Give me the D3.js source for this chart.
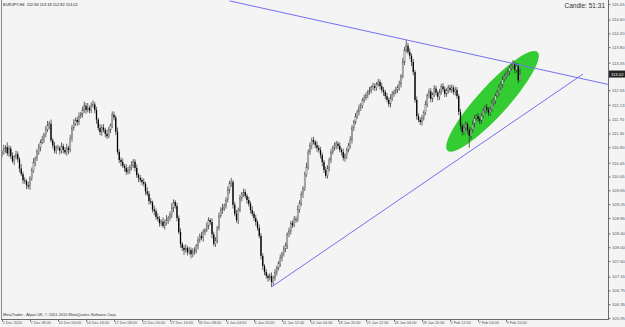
<!DOCTYPE html>
<html>
<head>
<meta charset="utf-8">
<script src="https://cdn.jsdelivr.net/npm/d3@7"></script>
<style>
  html, body { margin: 0; padding: 0; background: #f4f4f4; }
  svg { display: block; }
  text { font-family: "Liberation Sans", Arial, sans-serif; }
</style>
</head>
<body>
<div id="app"></div>
<script>
// EURJPY H4 closes, one row per 16 bars (one time label apart)
const closes = [
  110.74, 110.85, 110.90, 110.72, 110.86, 110.64, 110.50, 110.62, 110.70, 110.55, 110.28, 110.12, 109.94, 109.92, 109.80, 109.76,
  110.00, 110.22, 110.46, 110.58, 110.77, 110.90, 111.05, 111.12, 111.26, 111.42, 111.52, 111.58, 111.10, 110.95, 110.80, 110.88,
  110.88, 110.80, 110.93, 110.82, 110.75, 110.88, 110.82, 111.16, 111.46, 111.58, 111.69, 111.63, 111.80, 111.86, 111.98, 112.10,
  111.98, 112.04, 111.97, 112.10, 112.14, 111.98, 111.70, 111.46, 111.34, 111.47, 111.40, 111.29, 111.22, 111.40, 111.52, 111.84,
  111.76, 111.35, 110.76, 110.53, 110.47, 110.36, 110.30, 110.18, 110.24, 110.32, 110.36, 110.48, 110.30, 110.09, 110.01, 109.95,
  109.89, 109.84, 109.62, 109.55, 109.34, 109.30, 109.10, 109.05, 108.88, 108.82, 108.70, 108.74, 108.62, 108.72, 108.78, 108.84,
  108.94, 109.14, 109.31, 109.20, 108.85, 108.44, 108.10, 107.98, 107.92, 107.98, 107.86, 107.92, 107.80, 107.86, 107.92, 108.04,
  108.21, 108.33, 108.27, 108.44, 108.50, 108.62, 108.79, 108.73, 108.38, 108.10, 108.21, 108.56, 108.91, 109.08, 109.14, 109.20,
  109.37, 109.66, 109.84, 109.89, 109.23, 108.97, 108.79, 109.08, 109.43, 109.55, 109.60, 109.49, 109.37, 109.26, 109.08, 108.97,
  108.85, 108.73, 108.56, 108.33, 107.75, 107.46, 107.28, 107.17, 107.11, 107.17, 106.99, 107.11, 107.28, 107.40, 107.52, 107.69,
  107.81, 107.95, 108.06, 108.36, 108.47, 108.70, 108.64, 108.82, 108.80, 109.10, 109.28, 109.52, 109.70, 110.10, 110.33, 110.76,
  110.94, 111.11, 111.05, 110.96, 110.88, 110.82, 110.67, 110.47, 110.24, 110.07, 110.30, 110.53, 110.76, 110.88, 110.94, 111.00,
  110.94, 110.82, 110.76, 110.59, 110.65, 110.82, 110.94, 111.11, 111.46, 111.63, 111.80, 111.92, 112.04, 112.10, 112.27, 112.33,
  112.41, 112.50, 112.56, 112.62, 112.67, 112.62, 112.73, 112.79, 112.67, 112.56, 112.50, 112.38, 112.27, 112.15, 112.33, 112.44,
  112.50, 112.56, 112.62, 112.73, 112.96, 113.37, 113.72, 113.84, 113.66, 113.55, 113.37, 113.08, 112.27, 111.80, 111.69, 111.63,
  111.75, 111.90, 112.15, 112.40, 112.52, 112.30, 112.42, 112.60, 112.48, 112.36, 112.50, 112.66, 112.58, 112.44, 112.55, 112.62,
  112.56, 112.62, 112.50, 112.56, 112.38, 111.92, 111.52, 111.34, 111.46, 111.57, 111.40, 111.23, 111.40, 111.57, 111.75, 111.80,
  111.72, 111.66, 111.82, 111.95, 112.06, 111.98, 111.90, 112.00, 112.18, 112.25, 112.40, 112.48, 112.64, 112.70, 112.88, 112.95,
  113.02, 113.08, 113.20, 113.25, 113.31, 113.14, 113.25, 112.84, 113.02
];
const firstOpen = 110.70;

// wick lengths above / below the body, in pips (0.01)
const upWick = [
  8, 12, 6, 14, 9, 7, 11, 5, 10, 8, 6, 13, 7, 9, 5, 10,
  6, 9, 12, 5, 8, 10, 7, 11, 6, 9, 14, 8, 12, 6, 10, 7,
  9, 5, 11, 7, 8, 12, 6, 10, 8, 13, 7, 9, 11, 6, 10, 12,
  8, 14, 6, 10, 12, 7, 9, 5, 11, 8, 10, 6, 12, 9, 7, 10,
  9, 6, 12, 8, 7, 10, 5, 11, 9, 6, 13, 8, 7, 10, 6, 9,
  7, 10, 6, 12, 8, 9, 5, 11, 7, 10, 8, 6, 12, 9, 15, 7,
  10, 14, 8, 6, 9, 7, 11, 5, 8, 10, 6, 9, 7, 11, 8, 6,
  9, 7, 12, 8, 6, 10, 8, 5, 11, 7, 9, 6, 10, 8, 12, 7,
  8, 10, 9, 12, 6, 8, 11, 7, 9, 5, 10, 8, 6, 9, 7, 11,
  7, 9, 6, 10, 8, 7, 5, 9, 6, 8, 10, 7, 9, 6, 8, 10,
  6, 9, 8, 7, 10, 6, 8, 9, 7, 11, 8, 10, 7, 9, 12, 8,
  10, 7, 9, 6, 11, 8, 9, 7, 6, 10, 8, 7, 9, 6, 10, 8,
  7, 9, 6, 10, 8, 7, 9, 11, 8, 6, 9, 7, 10, 8, 6, 9,
  8, 6, 9, 7, 10, 8, 6, 9, 7, 10, 8, 6, 9, 7, 10, 8,
  7, 9, 8, 10, 6, 12, 9, 17, 8, 10, 7, 9, 6, 10, 8, 7,
  9, 7, 10, 6, 8, 9, 7, 10, 8, 6, 9, 7, 10, 8, 6, 9,
  8, 10, 7, 9, 8, 6, 9, 7, 10, 8, 6, 9, 7, 10, 8, 6,
  9, 7, 8, 10, 6, 9, 8, 7, 10, 8, 6, 9, 7, 10, 8, 9,
  8, 10, 6, 9, 12, 7, 9, 8, 16
];
const dnWick = [
  9, 6, 11, 7, 10, 8, 6, 12, 7, 9, 11, 6, 10, 8, 12, 7,
  10, 7, 6, 11, 8, 9, 12, 6, 10, 7, 8, 11, 6, 9, 7, 10,
  7, 11, 8, 10, 6, 9, 12, 7, 10, 8, 6, 11, 9, 7, 10, 8,
  11, 7, 9, 8, 6, 10, 12, 8, 9, 11, 7, 10, 8, 6, 9, 7,
  8, 10, 7, 9, 12, 6, 10, 8, 7, 11, 9, 6, 10, 8, 12, 7,
  9, 8, 11, 7, 10, 6, 9, 12, 8, 7, 10, 9, 6, 11, 8, 10,
  7, 9, 12, 8, 10, 6, 11, 9, 14, 8, 10, 7, 12, 9, 8, 10,
  10, 8, 7, 11, 9, 6, 10, 8, 12, 7, 9, 10, 8, 6, 11, 9,
  8, 7, 10, 9, 11, 7, 8, 12, 6, 10, 9, 7, 11, 8, 10, 7,
  9, 11, 8, 7, 10, 12, 9, 8, 11, 7, 14, 9, 8, 10, 7, 9,
  10, 8, 9, 11, 7, 10, 8, 6, 9, 7, 10, 8, 9, 7, 6, 8,
  8, 10, 7, 9, 11, 8, 10, 12, 9, 7, 8, 10, 9, 7, 8, 10,
  9, 7, 10, 8, 11, 9, 7, 8, 10, 9, 7, 8, 10, 9, 7, 8,
  7, 9, 8, 10, 7, 9, 8, 7, 10, 8, 11, 9, 7, 8, 10, 9,
  8, 7, 9, 8, 10, 7, 9, 8, 7, 10, 12, 9, 8, 10, 7, 9,
  10, 8, 7, 9, 8, 10, 9, 7, 8, 10, 9, 8, 7, 9, 8, 10,
  7, 9, 8, 10, 8, 9, 12, 10, 8, 9, 11, 35, 10, 8, 9, 7,
  9, 10, 8, 7, 9, 8, 10, 9, 7, 8, 9, 7, 8, 9, 7, 8,
  8, 7, 9, 8, 7, 10, 8, 9, 2
];

const timeLabels = ['2 Dec 2010', '7 Dec 08:00', '10 Dec 00:00', '14 Dec 16:00', '17 Dec 08:00', '22 Dec 00:00',
  '27 Dec 16:00', '30 Dec 08:00', '4 Jan 04:00', '6 Jan 20:00', '11 Jan 12:00', '14 Jan 04:00', '18 Jan 20:00',
  '21 Jan 12:00', '26 Jan 04:00', '28 Jan 20:00', '2 Feb 12:00', '7 Feb 04:00', '9 Feb 20:00'];
// 112.95 sits under the current price box, so it is not listed
const priceTicks = [115.05, 114.60, 114.20, 113.80, 113.35, 112.55, 112.13, 111.70, 111.30, 110.90, 110.45,
  110.05, 109.65, 109.25, 108.85, 108.40, 108.00, 107.60, 107.15, 106.75, 106.35, 105.95];

// drawn objects: [bar index, price]
const resistance = [[130, 115.14], [231, 114.01]]; // ray to the right
const support = [[154, 106.85], [332, 113.02]];
const ellipsePts = [[254.6, 110.80], [306, 113.66]];
const ellipseHalfWidth = 15;

const header = 'EURJPY,H4  112.84 113.18 112.82 113.02';
const lastPrice = 113.02;

let width = 625;
let height = 327;
let plotRight = 608;
let plotBottom = 319;

const candles = closes.map((c, i) => {
  const o = i === 0 ? firstOpen : closes[i - 1];
  return { i, o, c, h: Math.max(o, c) + upWick[i] / 100, l: Math.min(o, c) - dnWick[i] / 100 };
});

const x = d3.scaleLinear().domain([0, 16]).range([2, 30]);
const y = d3.scaleLinear().domain([105.95, 115.05]).range([318, 4]);

const svg = d3.create('svg').attr('width', width).attr('height', height);

svg.append('rect').attr('width', width).attr('height', height).attr('fill', '#f4f4f4');

svg.append('clipPath').attr('id', 'plot')
  .append('rect').attr('x', 0).attr('y', 0).attr('width', plotRight).attr('height', plotBottom);

const plot = svg.append('g').attr('clip-path', 'url(#plot)');

// ellipse sits behind the candles
const ex1 = x(ellipsePts[0][0]), ey1 = y(ellipsePts[0][1]);
const ex2 = x(ellipsePts[1][0]), ey2 = y(ellipsePts[1][1]);
const angle = Math.atan2(ey2 - ey1, ex2 - ex1) * 180 / Math.PI;
plot.append('ellipse')
  .attr('cx', 0).attr('cy', 0)
  .attr('rx', Math.hypot(ex2 - ex1, ey2 - ey1) / 2)
  .attr('ry', ellipseHalfWidth)
  .attr('transform', `translate(${(ex1 + ex2) / 2},${(ey1 + ey2) / 2}) rotate(${angle})`)
  .attr('fill', '#33cc33');

// candles
const candle = plot.append('g').selectAll('g').data(candles).join('g');
candle.append('line')
  .attr('x1', d => x(d.i)).attr('x2', d => x(d.i))
  .attr('y1', d => y(d.h)).attr('y2', d => y(d.l))
  .attr('stroke', '#2a2a2a').attr('stroke-width', 0.7);
candle.append('rect')
  .attr('x', d => x(d.i) - 0.65)
  .attr('width', 1.3)
  .attr('y', d => y(Math.max(d.o, d.c)))
  .attr('height', d => Math.max(0.8, Math.abs(y(d.o) - y(d.c))))
  .attr('fill', d => (d.c >= d.o ? '#c4c4c4' : '#000'))
  .attr('stroke', d => (d.c >= d.o ? '#555' : 'none'))
  .attr('stroke-width', 0.3);

// trend lines
const lineColor = '#7570f0';
const slope = (resistance[1][1] - resistance[0][1]) / (resistance[1][0] - resistance[0][0]);
const farBar = 360;
plot.append('line')
  .attr('x1', x(resistance[0][0])).attr('y1', y(resistance[0][1]))
  .attr('x2', x(farBar)).attr('y2', y(resistance[1][1] + slope * (farBar - resistance[1][0])))
  .attr('stroke', lineColor).attr('stroke-width', 1);
plot.append('line')
  .attr('x1', x(support[0][0])).attr('y1', y(support[0][1]))
  .attr('x2', x(support[1][0])).attr('y2', y(support[1][1]))
  .attr('stroke', lineColor).attr('stroke-width', 1);

// frame
svg.append('line').attr('x1', 1.5).attr('x2', 1.5).attr('y1', 0).attr('y2', plotBottom)
  .attr('stroke', '#8a8a8a');
svg.append('line').attr('x1', 1).attr('x2', plotRight).attr('y1', plotBottom + 0.5).attr('y2', plotBottom + 0.5)
  .attr('stroke', '#6a6a6a');
svg.append('line').attr('x1', plotRight + 0.5).attr('x2', plotRight + 0.5).attr('y1', 0).attr('y2', plotBottom + 1)
  .attr('stroke', '#6a6a6a');

// price axis
const yAxis = svg.append('g')
  .attr('transform', `translate(${plotRight + 0.5},0)`)
  .call(d3.axisRight(y).tickValues(priceTicks).tickSize(2).tickPadding(1.5).tickFormat(d3.format('.2f')));
yAxis.select('.domain').remove();
yAxis.selectAll('line').attr('stroke', '#6a6a6a');
yAxis.selectAll('text').attr('font-size', 4.2).attr('fill', '#555').attr('font-family', null);

// time axis
const xAxis = svg.append('g')
  .attr('transform', `translate(0,${plotBottom + 0.5})`)
  .call(d3.axisBottom(x).tickValues(timeLabels.map((d, i) => i * 16)).tickSize(2)
    .tickFormat((d, i) => timeLabels[i]));
xAxis.select('.domain').remove();
xAxis.selectAll('line').attr('stroke', '#6a6a6a');
xAxis.selectAll('text')
  .attr('font-size', 3.8).attr('fill', '#555').attr('font-family', null)
  .attr('text-anchor', 'start').attr('x', 0).attr('y', 2).attr('dy', '0.71em');

// current price marker
const lp = y(lastPrice);
svg.append('rect').attr('x', plotRight + 1).attr('y', lp - 3.5).attr('width', 16).attr('height', 7).attr('fill', '#222');
svg.append('text').attr('x', plotRight + 3).attr('y', lp).attr('dy', '0.35em')
  .attr('font-size', 4.2).attr('fill', '#fff').text(d3.format('.2f')(lastPrice));

// texts
svg.append('text').attr('x', 3).attr('y', 5).attr('dy', '0.35em')
  .attr('font-size', 4).attr('fill', '#222').attr('xml:space', 'preserve').text(header);
svg.append('text').attr('x', 605).attr('y', 5.5).attr('dy', '0.35em').attr('text-anchor', 'end')
  .attr('font-size', 6.5).attr('fill', '#333').text('Candle: 51:31');
svg.append('text').attr('x', 3).attr('y', 314.5).attr('dy', '0.35em')
  .attr('font-size', 3.9).attr('fill', '#333')
  .text('MetaTrader - Alpari UK, \u00a9 2001-2010 MetaQuotes Software Corp.');

document.getElementById('app').append(svg.node());
</script>
</body>
</html>
